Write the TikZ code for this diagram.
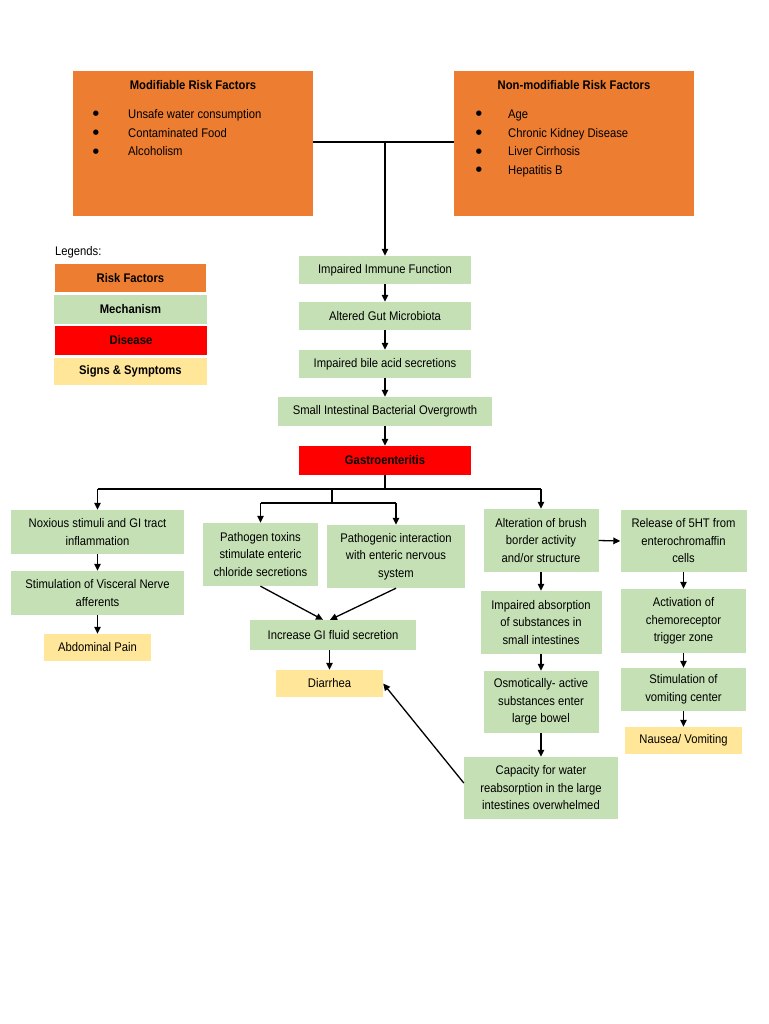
\documentclass[tikz,border=0pt]{standalone}
\usepackage{fontspec}
\setmainfont{Liberation Sans}[FakeStretch=0.9]
\newfontfamily\dotfont{DejaVu Sans}
\usetikzlibrary{arrows.meta,calc}

\definecolor{riskorange}{HTML}{ED7D31}
\definecolor{mechgreen}{HTML}{C5E0B4}
\definecolor{diseasered}{HTML}{FF0000}
\definecolor{signyellow}{HTML}{FFE699}
\newcommand{\boxfont}{\fontsize{12.5}{17.5}\selectfont}

\tikzset{
  box/.style={inner sep=0pt, align=center, font=\boxfont},
  wh/.style 2 args={minimum width=#1pt, minimum height=#2pt},
  risk/.style={box, fill=riskorange},
  mech/.style={box, fill=mechgreen},
  dis/.style={box, fill=diseasered, font=\boxfont\bfseries},
  sign/.style={box, fill=signyellow},
  listdot/.style={inner sep=0pt, font=\dotfont\fontsize{7}{7}\selectfont},
  listtext/.style={inner sep=0pt, anchor=base west, font=\boxfont},
  arr/.style={-{Triangle[length=7pt,width=6.5pt]}, line width=1.3pt},
  link/.style={line width=1.3pt}
}

\begin{document}
\begin{tikzpicture}[x=1pt, y=-1pt]
  \useasboundingbox[fill=white] (0,0) rectangle (768,1024);

  %% risk factor boxes
  \node[risk, wh={240}{145}] (modif) at (193,143.5) {};
  \node[risk, wh={240}{145}] (nonmod) at (574,143.5) {};
  \node[box, font=\boxfont\bfseries] (modiftitle) at (193,85.5) {Modifiable Risk Factors};
  \node[box, font=\boxfont\bfseries] (nonmodtitle) at (574,85.5) {Non-modifiable Risk Factors};
  \foreach \txt [count=\i] in {Unsafe water consumption, Contaminated Food, Alcoholism} {
    \node[listdot] (mdot\i) at (96,{95.5+18.6*\i}) {●};
    \node[listtext] (mtxt\i) at (128,{100+18.6*\i}) {\txt};
  }
  \foreach \txt [count=\i] in {Age, Chronic Kidney Disease, Liver Cirrhosis, Hepatitis B} {
    \node[listdot] (ndot\i) at (479,{95.5+18.6*\i}) {●};
    \node[listtext] (ntxt\i) at (508,{100+18.6*\i}) {\txt};
  }

  %% legend
  \node[box, anchor=west] (legtitle) at (55,252) {Legends:};
  \node[risk, wh={151}{28}, font=\boxfont\bfseries] (lrisk) at (130.5,278) {Risk Factors};
  \node[mech, wh={153}{29}, font=\boxfont\bfseries] (lmech) at (130.5,309.5) {Mechanism};
  \node[dis, wh={152}{29}] (ldis) at (131,340.5) {Disease};
  \node[sign, wh={153}{27}, font=\boxfont\bfseries] (lsign) at (130.5,371.5) {Signs \& Symptoms};

  %% main chain
  \node[mech, wh={172}{28}] (imm) at (385,270) {Impaired Immune Function};
  \node[mech, wh={172}{28}] (gut) at (385,316) {Altered Gut Microbiota};
  \node[mech, wh={172}{28}] (bile) at (385,364) {Impaired bile acid secretions};
  \node[mech, wh={214}{29}] (sibo) at (385,411.5) {Small Intestinal Bacterial Overgrowth};
  \node[dis, wh={172}{29}] (gastro) at (385,460.5) {Gastroenteritis};

  %% left branch
  \node[mech, wh={173}{44}] (nox) at (97.5,532) {Noxious stimuli and GI tract\\inflammation};
  \node[mech, wh={173}{44}] (visc) at (97.5,593) {Stimulation of Visceral Nerve\\afferents};
  \node[sign, wh={107}{27}] (abd) at (97.5,647.5) {Abdominal Pain};

  %% middle branch
  \node[mech, wh={115}{63}] (tox) at (260.5,554.5) {Pathogen toxins\\stimulate enteric\\chloride secretions};
  \node[mech, wh={138}{63}] (pint) at (396,556.5) {Pathogenic interaction\\with enteric nervous\\system};
  \node[mech, wh={166}{30}] (fluid) at (333,635) {Increase GI fluid secretion};
  \node[sign, wh={107}{27}] (diar) at (329.5,683.5) {Diarrhea};

  %% right branch
  \node[mech, wh={115}{63}] (brush) at (541,540.5) {Alteration of brush\\border activity\\and/or structure};
  \node[mech, wh={121}{63}] (absorb) at (541,622.5) {Impaired absorption\\of substances in\\small intestines};
  \node[mech, wh={115}{62}] (osmo) at (541,702) {Osmotically- active\\substances enter\\large bowel};
  \node[mech, wh={154}{62}] (capac) at (541,788) {Capacity for water\\reabsorption in the large\\intestines overwhelmed};
  \node[mech, wh={126}{62}] (ht) at (683.5,541) {Release of 5HT from\\enterochromaffin\\cells};
  \node[mech, wh={125}{64}] (chemo) at (683.5,621) {Activation of\\chemoreceptor\\trigger zone};
  \node[mech, wh={125}{43}] (vomc) at (683.5,689.5) {Stimulation of\\vomiting center};
  \node[sign, wh={117}{27}] (naus) at (683.5,740.5) {Nausea/ Vomiting};

  %% connectors
  \draw[link] (modif.east |- 0,142) -- (nonmod.west |- 0,142);
  \draw[arr] (imm.north |- 0,142) -- (imm.north);
  \foreach \a/\b in {imm/gut, gut/bile, bile/sibo, sibo/gastro, nox/visc, visc/abd,
                     brush/absorb, absorb/osmo, osmo/capac, ht/chemo, chemo/vomc, vomc/naus}
    \draw[arr] (\a) -- (\b);

  \draw[link] (gastro.south) -- (gastro.south |- 0,489) coordinate (bus);
  \draw[link] (nox.north |- bus) -- (brush.north |- bus);
  \draw[arr] (nox.north |- bus) -- (nox.north);
  \draw[arr] (brush.north |- bus) -- (brush.north);
  \draw[link] (332,489) coordinate (bustap) -- (332,503) coordinate (bus2);
  \draw[link] (tox.north |- bus2) -- (pint.north |- bus2);
  \draw[arr] (tox.north |- bus2) -- (tox.north);
  \draw[arr] (pint.north |- bus2) -- (pint.north);

  \draw[arr] (tox.south) -- ([xshift=-10pt]fluid.north);
  \draw[arr] (pint.south) -- ([xshift=-3pt]fluid.north);
  \draw[arr] (fluid.south -| diar.north) -- (diar.north);
  \draw[arr] ([yshift=5pt]capac.west) -- (diar.east);
  \draw[arr] (brush.east) -- (ht.west);
\end{tikzpicture}
\end{document}
